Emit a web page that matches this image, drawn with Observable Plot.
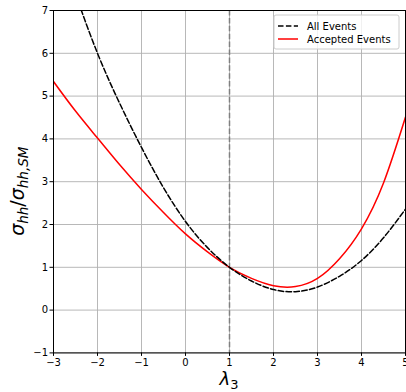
<!DOCTYPE html>
<html>
<head>
<meta charset="utf-8">
<script src="https://cdn.jsdelivr.net/npm/d3@7"></script>
<script src="https://cdn.jsdelivr.net/npm/@observablehq/plot@0.6"></script>
<style>
  html, body { margin: 0; padding: 0; background: #fff; }
  #chart { width: 406px; height: 392px; }
  svg { font-family: "DejaVu Sans", sans-serif; }
</style>
</head>
<body>
<div id="chart"></div>
<script>
// λ3 values and cross-section ratios
const lambdaAll = [-2.5, -2, -1.5, -1, -0.5, 0, 0.5, 1, 1.5, 2, 2.5, 3, 3.5, 4, 4.5, 5];
const sigmaAll  = [7.38, 6.0, 4.84, 3.8, 2.86, 2.07, 1.46, 1.0, 0.68, 0.48, 0.43, 0.54, 0.79, 1.16, 1.69, 2.36];

const lambdaAcc = [-3, -2.5, -2, -1.5, -1, -0.5, 0, 0.5, 1, 1.5, 2, 2.5, 3, 3.5, 4, 4.5, 5];
const sigmaAcc  = [5.34, 4.65, 4.02, 3.4, 2.82, 2.28, 1.78, 1.36, 1.0, 0.74, 0.57, 0.55, 0.74, 1.2, 1.9, 2.97, 4.51];

const smLambda = [1];
const xTicks = [-3, -2, -1, 0, 1, 2, 3, 4, 5];
const yTicks = [-1, 0, 1, 2, 3, 4, 5, 6, 7];
const seriesNames = ["All Events", "Accepted Events"];

const allData = lambdaAll.map((x, i) => ({x, y: sigmaAll[i]}));
const accData = lambdaAcc.map((x, i) => ({x, y: sigmaAcc[i]}));

const fmt = d => (d < 0 ? "\u2212" + Math.abs(d) : String(d));

const W = 406, H = 392;
const mL = 53, mR = 1, mT = 10, mB = 39.6;

const plot = Plot.plot({
  width: W,
  height: H,
  marginLeft: mL,
  marginRight: mR,
  marginTop: mT,
  marginBottom: mB,
  style: {background: "white", fontFamily: "DejaVu Sans, sans-serif", fontSize: "10px", color: "black"},
  x: {domain: [-3, 5], ticks: xTicks, label: null},
  y: {domain: [-1, 7], ticks: yTicks, label: null},
  marks: [
    Plot.gridX(xTicks, {stroke: "#b0b0b0", strokeOpacity: 1, strokeWidth: 0.9}),
    Plot.gridY(yTicks, {stroke: "#b0b0b0", strokeOpacity: 1, strokeWidth: 0.9}),
    Plot.ruleX(smLambda, {stroke: "#808080", strokeWidth: 1.5, strokeDasharray: "5.5,2.4"}),
    Plot.line(accData, {x: "x", y: "y", stroke: "red", strokeWidth: 1.5, curve: "natural", clip: true}),
    Plot.line(allData, {x: "x", y: "y", stroke: "black", strokeWidth: 1.5, strokeDasharray: "5.5,2.4", curve: "natural", clip: true}),
    Plot.frame({stroke: "black", strokeWidth: 1}),
    Plot.axisX(xTicks, {tickSize: 3.5, tickPadding: 2, tickFormat: fmt, fontSize: 10, label: null}),
    Plot.axisY(yTicks, {tickSize: 3.5, tickPadding: 2, tickFormat: fmt, fontSize: 10, label: null})
  ]
});

document.getElementById("chart").appendChild(plot);

const svg = d3.select(plot.tagName.toLowerCase() === "svg" ? plot : plot.querySelector("svg"));

const xl = svg.append("text")
  .attr("x", (mL + (W - mR)) / 2)
  .attr("y", 385)
  .attr("text-anchor", "middle")
  .attr("font-family", "DejaVu Sans, sans-serif")
  .attr("font-size", 18)
  .attr("fill", "black");
xl.append("tspan").attr("font-style", "italic").text("\u03bb");
xl.append("tspan").attr("font-size", 13).attr("dy", 4).text("3");

const yl = svg.append("text")
  .attr("transform", `translate(24,${(mT + (H - mB)) / 2 + 10}) rotate(-90)`)
  .attr("text-anchor", "middle")
  .attr("font-family", "DejaVu Sans, sans-serif")
  .attr("font-size", 19)
  .attr("fill", "black");
yl.append("tspan").attr("font-style", "italic").text("\u03c3");
yl.append("tspan").attr("font-style", "italic").attr("font-size", 13.5).attr("dy", 4).text("hh");
yl.append("tspan").attr("dy", -4).text("/");
yl.append("tspan").attr("font-style", "italic").text("\u03c3");
yl.append("tspan").attr("font-style", "italic").attr("font-size", 13.5).attr("dy", 4).text("hh,SM");

const lg = svg.append("g").attr("text-anchor", "start");
lg.append("rect")
  .attr("x", 274).attr("y", 15).attr("width", 125).attr("height", 34)
  .attr("rx", 2).attr("fill", "white").attr("fill-opacity", 0.8)
  .attr("stroke", "#cccccc").attr("stroke-width", 1);
const legendItems = [
  {name: seriesNames[0], color: "black", dash: "5.5,2.4", y: 26},
  {name: seriesNames[1], color: "red", dash: null, y: 39}
];
legendItems.forEach(it => {
  lg.append("line")
    .attr("x1", 278).attr("x2", 298).attr("y1", it.y).attr("y2", it.y)
    .attr("stroke", it.color).attr("stroke-width", 1.5)
    .attr("stroke-dasharray", it.dash);
  lg.append("text")
    .attr("x", 307).attr("y", it.y).attr("dy", "0.35em")
    .attr("text-anchor", "start")
    .attr("font-family", "DejaVu Sans, sans-serif")
    .attr("font-size", 10).attr("fill", "black")
    .text(it.name);
});
</script>
</body>
</html>
